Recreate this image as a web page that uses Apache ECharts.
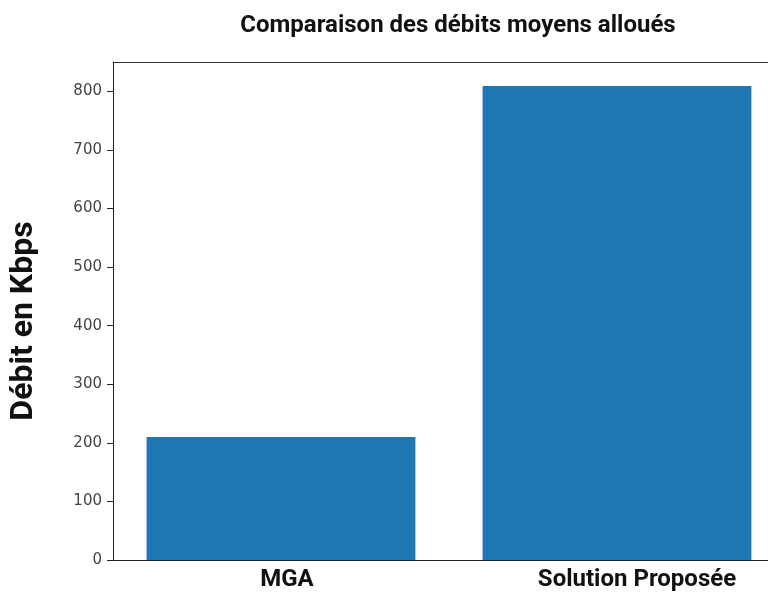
<!DOCTYPE html>
<html>
<head>
<meta charset="utf-8">
<script src="https://cdn.jsdelivr.net/npm/echarts@6/dist/echarts.min.js"></script>
<style>html,body{margin:0;padding:0;background:#fff;overflow:hidden;width:768px;height:598px;}#c{width:785px;height:598px;}</style>
</head>
<body>
<div id="c"></div>
<script>
const categories = ['MGA', 'Solution Proposée'];
const debits = [210, 809];
const yTicks = [0, 100, 200, 300, 400, 500, 600, 700, 800];
const labelShift = [12, 40];

const chart = echarts.init(document.getElementById('c'), null, {renderer: 'canvas'});
chart.setOption({
  animation: false,
  backgroundColor: '#ffffff',
  title: {
    text: 'Comparaison des débits moyens alloués',
    left: 453, top: 9, textAlign: 'center',
    textStyle: {fontFamily: 'Roboto', fontWeight: 'bold', fontSize: 24, color: '#111'}
  },
  grid: {
    left: 113, top: 62, right: 0, bottom: 38, show: false
  },
  xAxis: [{
    type: 'category',
    data: categories.map((c, i) => ({value: c, textStyle: {padding: [0, 0, 0, labelShift[i]]}})),
    axisLine: {lineStyle: {color: '#222', width: 1}},
    axisTick: {alignWithLabel: true, length: 5, lineStyle: {color: '#222'}},
    axisLabel: {fontFamily: 'Roboto', fontWeight: 'bold', fontSize: 24, color: '#111', margin: 8}
  }, {
    type: 'category', position: 'top',
    data: categories,
    axisLine: {show: true, lineStyle: {color: '#333', width: 1}},
    axisTick: {show: false}, axisLabel: {show: false}, splitLine: {show: false}
  }],
  yAxis: {
    type: 'value', min: 0, max: 850, interval: 100,
    name: 'Débit en Kbps', nameLocation: 'middle', nameGap: 73, nameRotate: 90,
    nameTextStyle: {fontFamily: 'Roboto', fontWeight: 'bold', fontSize: 32, color: '#111', padding: [0, 20, 0, 0]},
    axisLine: {show: true, lineStyle: {color: '#222', width: 1}},
    axisTick: {show: true, length: 6, customValues: yTicks, lineStyle: {color: '#222'}},
    axisLabel: {customValues: yTicks, fontFamily: 'DejaVu Sans', fontSize: 15, color: '#444', margin: 11},
    splitLine: {show: false}
  },
  series: [{
    type: 'bar',
    data: debits,
    barWidth: '80%',
    itemStyle: {color: '#1f77b4'}
  }]
});
</script>
</body>
</html>
